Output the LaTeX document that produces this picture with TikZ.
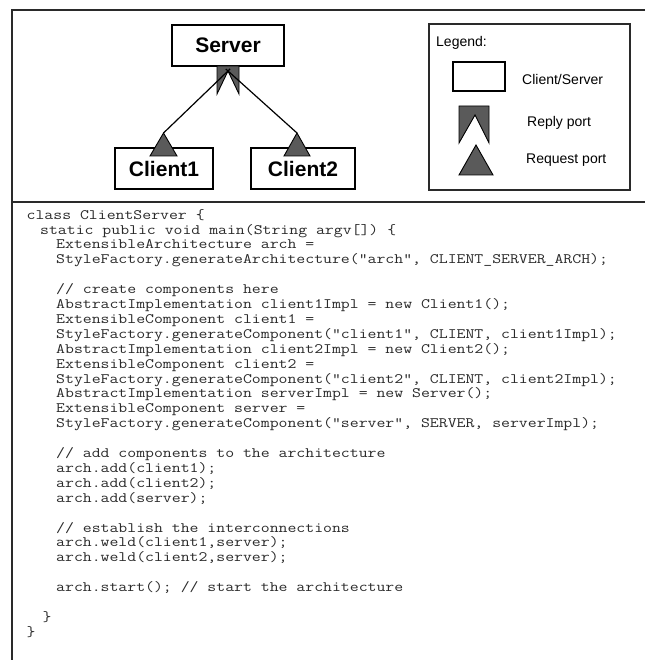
\documentclass[tikz,border=0pt]{standalone}
\usepackage{fontspec}
\setmainfont{Liberation Sans}
\newfontfamily\codefont{Latin Modern Mono}[FakeStretch=1.2]
% indentation steps of the program listing
\newcommand\indA{\hspace*{13.5pt}}
\newcommand\indB{\hspace*{29.5pt}}
\definecolor{portgray}{HTML}{5A5A5A}
\definecolor{framegray}{HTML}{2A2A2A}
\definecolor{codegray}{HTML}{2A2A2A}
\tikzset{
  frameline/.style={draw=framegray, line width=1.8pt},
  compbox/.style={draw=black, line width=1.3pt, fill=white, minimum height=41pt,
    inner sep=0pt, font=\fontsize{21}{24}\selectfont\bfseries},
  portshape/.style={draw=black, line width=0.9pt, fill=portgray, line join=miter},
  wire/.style={draw=black, line width=1.2pt},
  legendtext/.style={anchor=west, inner sep=0pt, font=\fontsize{14}{16}\selectfont},
  codetext/.style={anchor=north west, inner sep=0pt, align=left, text=codegray,
    font=\codefont\fontsize{14.4}{14.9}\selectfont}
}
\begin{document}
\begin{tikzpicture}[x=1pt, y=-1pt]
  \useasboundingbox (0,0) rectangle (645,660);
  \fill[white] (0,0) rectangle (645,660);

  % outer frame and divider between diagram and code
  \draw[frameline] (645,10) -- (12,10) -- (12,660);
  \draw[frameline] (12,202) -- (645,202);

  % components
  \node[compbox, minimum width=112pt] (server)  at (228,45.5)   {Server};
  \node[compbox, minimum width=98pt]  (client1) at (164,168.5)  {Client1};
  \node[compbox, minimum width=104pt] (client2) at (303,168.5)  {Client2};

  % ports
  \coordinate (srep) at (228,71);
  \coordinate (c1req) at (163.5,133);
  \coordinate (c2req) at (297,133);
  \draw[portshape] (217,66) -- (239,66) -- (239,94) -- (srep) -- (217,94) -- cycle;
  \draw[portshape] (150,156) -- (177,156) -- (c1req) -- cycle;
  \draw[portshape] (284,156) -- (310,156) -- (c2req) -- cycle;

  % connectors
  \draw[wire, shorten >=-3pt] (c1req) -- (srep);
  \draw[wire, shorten >=-3pt] (c2req) -- (srep);

  % legend
  \node[draw=framegray, line width=1.6pt, minimum width=201pt, minimum height=166pt, inner sep=0pt]
    (legend) at (529.5,107) {};
  \node[legendtext] (legtitle) at (436,43) {Legend:};
  \node[draw=black, line width=1.2pt, minimum width=52pt, minimum height=29pt, inner sep=0pt]
    (legbox) at (479,76.5) {};
  \draw[portshape] (459,106) -- (489,106) -- (489,143) -- (475,115) -- (459,143) -- cycle;
  \draw[portshape] (459,175) -- (493,175) -- (476,145) -- cycle;
  \node[legendtext] (legcs)  at (522,79)  {Client/Server};
  \node[legendtext] (legrep) at (527,123) {Reply port};
  \node[legendtext] (legreq) at (526,160) {Request port};

  % program text
  \node[codetext] (code) at (26.5,208.5) {%
\strut class ClientServer \{\\
\indA static public void main(String argv[]) \{\\
\indB ExtensibleArchitecture arch =\\
\indB StyleFactory.generateArchitecture("arch", CLIENT\_SERVER\_ARCH);\\
\mbox{}\\
\indB // create components here\\
\indB AbstractImplementation client1Impl = new Client1();\\
\indB ExtensibleComponent client1 =\\
\indB StyleFactory.generateComponent("client1", CLIENT, client1Impl);\\
\indB AbstractImplementation client2Impl = new Client2();\\
\indB ExtensibleComponent client2 =\\
\indB StyleFactory.generateComponent("client2", CLIENT, client2Impl);\\
\indB AbstractImplementation serverImpl = new Server();\\
\indB ExtensibleComponent server =\\
\indB StyleFactory.generateComponent("server", SERVER, serverImpl);\\
\mbox{}\\
\indB // add components to the architecture\\
\indB arch.add(client1);\\
\indB arch.add(client2);\\
\indB arch.add(server);\\
\mbox{}\\
\indB // establish the interconnections\\
\indB arch.weld(client1,server);\\
\indB arch.weld(client2,server);\\
\mbox{}\\
\indB arch.start(); // start the architecture\\
\mbox{}\\
\hspace*{16pt}\}\\
\}};
\end{tikzpicture}
\end{document}
